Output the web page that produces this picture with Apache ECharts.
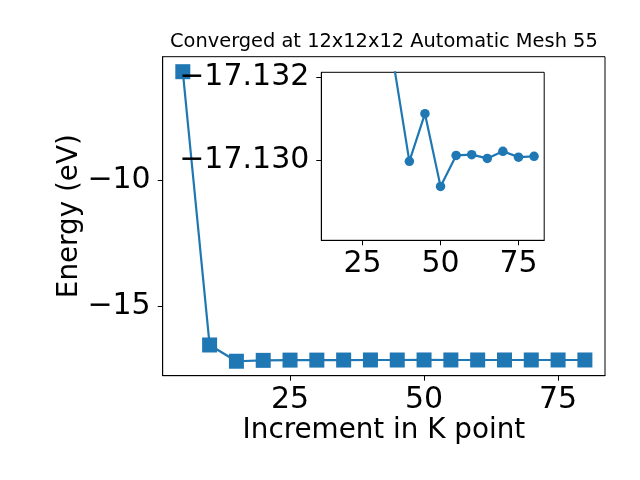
<!DOCTYPE html>
<html><head><meta charset="utf-8">
<script src="https://cdn.jsdelivr.net/npm/echarts@6/dist/echarts.min.js"></script>
<style>html,body{margin:0;padding:0;background:#fff}#c{width:640px;height:480px}</style>
</head><body><div id="c"></div>
<script>
const kpoints = [5,10,15,20,25,30,35,40,45,50,55,60,65,70,75,80];
const energy = [-5.69,-16.535,-17.18,-17.145,-17.135,-17.135,-17.1323,-17.12998,-17.13112,-17.12938,-17.13012,-17.13014,-17.13005,-17.13022,-17.13008,-17.1301];
const mainXTicks = [25,50,75];
const mainYTicks = [-10,-15];
const insetXTicks = [25,50,75];
const insetYTicks = [-17.132,-17.130];
const insetStart = 2;
const titleText = 'Converged at 12x12x12 Automatic Mesh 55';
const xLabel = 'Increment in K point';
const yLabel = 'Energy (eV)';

const FONT = 'DejaVu Sans';
const BLUE = '#1f77b4';
const fmtMinus = s => String(s).replace('-', '\u2212');

const mainData = kpoints.map((k,i)=>[k, energy[i]]);
const insetData = kpoints.slice(insetStart).map((k,i)=>[k, energy[i+insetStart]]);

const chart = echarts.init(document.getElementById('c'), null, {renderer:'canvas'});
const axisCommon = (fmt, ticks, margin) => ({
  splitLine:{show:false},
  axisLine:{show:true, onZero:false, lineStyle:{color:'#000', width:1}},
  axisTick:{show:true, inside:false, length:5, customValues:ticks, lineStyle:{color:'#000', width:1}},
  axisLabel:{customValues:ticks, formatter:fmt, color:'#000', fontFamily:FONT, fontSize:30, margin:margin}
});
chart.setOption({
  animation:false,
  backgroundColor:'#fff',
  grid:[
    {left:162.7, top:56.7, width:442.3, height:319, show:true, borderColor:'#000', borderWidth:1, backgroundColor:'transparent'},
    {left:321.3, top:72.3, width:222.9, height:168, show:true, borderColor:'#000', borderWidth:1, backgroundColor:'#fff', z:3}
  ],
  xAxis:[
    Object.assign({type:'value', gridIndex:0, min:1.25, max:83.75}, axisCommon(v=>fmtMinus(v), mainXTicks, 10)),
    Object.assign({type:'value', gridIndex:1, min:11.75, max:83.25, z:4}, axisCommon(v=>fmtMinus(v), insetXTicks, 9))
  ],
  yAxis:[
    Object.assign({type:'value', gridIndex:0, min:-17.754, max:-5.095}, axisCommon(v=>fmtMinus(v), mainYTicks, 12)),
    Object.assign({type:'value', gridIndex:1, min:-17.13211, max:-17.12809, inverse:true, z:4}, axisCommon(v=>fmtMinus(v.toFixed(3)), insetYTicks, 12))
  ],
  series:[
    {type:'line', xAxisIndex:0, yAxisIndex:0, data:mainData, symbol:'rect', symbolSize:15,
     lineStyle:{color:BLUE, width:2.2}, itemStyle:{color:BLUE}, z:2},
    {type:'line', xAxisIndex:1, yAxisIndex:1, data:insetData, symbol:'circle', symbolSize:9.5, clip:true,
     lineStyle:{color:BLUE, width:2.2}, itemStyle:{color:BLUE}, z:5}
  ],
  graphic:[
    {type:'text', x:383.9, y:42.3, style:{text:titleText, font:'19.4px "DejaVu Sans"', fill:'#000', align:'center', verticalAlign:'middle'}},
    {type:'text', x:383.9, y:431, style:{text:xLabel, font:'27.8px "DejaVu Sans"', fill:'#000', align:'center', verticalAlign:'middle'}},
    {type:'text', x:70, y:216.2, rotation:Math.PI/2, style:{text:yLabel, font:'27.8px "DejaVu Sans"', fill:'#000', align:'center', verticalAlign:'middle'}}
  ]
});
</script></body></html>
